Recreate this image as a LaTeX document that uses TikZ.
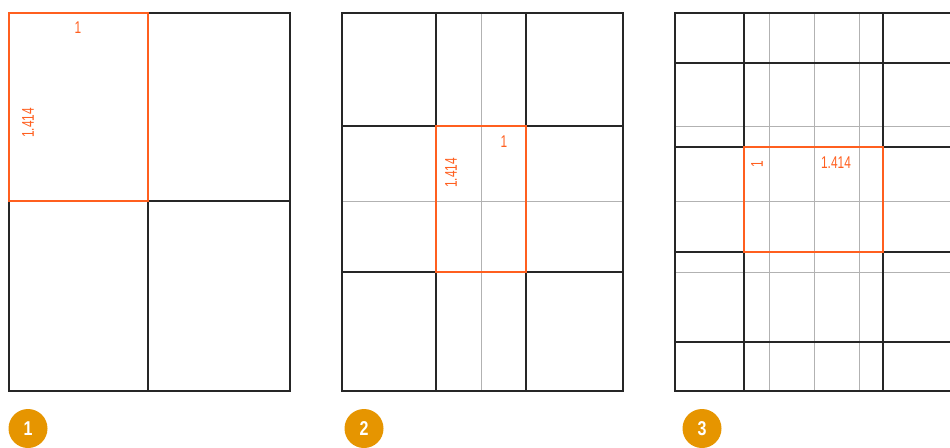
\documentclass[tikz,border=0pt]{standalone}
\usepackage{fontspec}
\setmainfont{Liberation Sans}
\newfontfamily\dimfont[FakeStretch=0.7]{Liberation Sans}
\newfontfamily\badgefont[FakeStretch=0.8]{Liberation Sans}
\definecolor{sheetorange}{HTML}{FF5F1F}
\definecolor{badgeorange}{HTML}{E69500}

\begin{document}
\begin{tikzpicture}[x=1pt,y=-1pt,
  grid/.style={draw=black!85,line width=1.5pt},
  helper/.style={draw=black!30,line width=1pt},
  sheet/.style={draw=sheetorange,line width=1.5pt},
  dim/.style={text=sheetorange,font=\dimfont\fontsize{17}{17}\selectfont,inner sep=0pt},
  badge/.style={circle,fill=badgeorange,text=white,minimum size=39pt,inner sep=0pt,font=\badgefont\bfseries\fontsize{20}{20}\selectfont}]
\useasboundingbox (0,0) rectangle (950,447);
\clip (0,0) rectangle (950,447);

% panel 1
\draw[grid] (9,13) rectangle (290,391);
\draw[grid] (148,13) -- (148,391);
\draw[grid] (9,201) -- (290,201);
\draw[sheet] (9,13) rectangle (148,201);
\node[dim] (w1) at (78,28) {1};
\node[dim,rotate=90] (h1) at (28,123) {1.414};
\node[badge] (b1) at (28,428.5) {1};

% panel 2
\draw[helper] (481,13) -- (481,391);
\draw[helper] (342,201) -- (623,201);
\draw[grid] (342,13) rectangle (623,391);
\foreach \x in {436,526} \draw[grid] (\x,13) -- (\x,391);
\foreach \y in {126,272} \draw[grid] (342,\y) -- (623,\y);
\draw[sheet] (436,126) rectangle (526,272);
\node[dim] (w2) at (504,142) {1};
\node[dim,rotate=90] (h2) at (451,173) {1.414};
\node[badge] (b2) at (364,428.5) {2};

% panel 3
\foreach \x in {769,814,859} \draw[helper] (\x,13) -- (\x,391);
\foreach \y in {126,201,272} \draw[helper] (675,\y) -- (960,\y);
\draw[grid] (675,13) rectangle (960,391);
\foreach \x in {744,883} \draw[grid] (\x,13) -- (\x,391);
\foreach \y in {63,147,252,342} \draw[grid] (675,\y) -- (960,\y);
\draw[sheet] (744,147) rectangle (883,252);
\node[dim,rotate=90] (w3) at (757,164) {1};
\node[dim] (h3) at (836,163) {1.414};
\node[badge] (b3) at (702,428.5) {3};
\end{tikzpicture}
\end{document}
